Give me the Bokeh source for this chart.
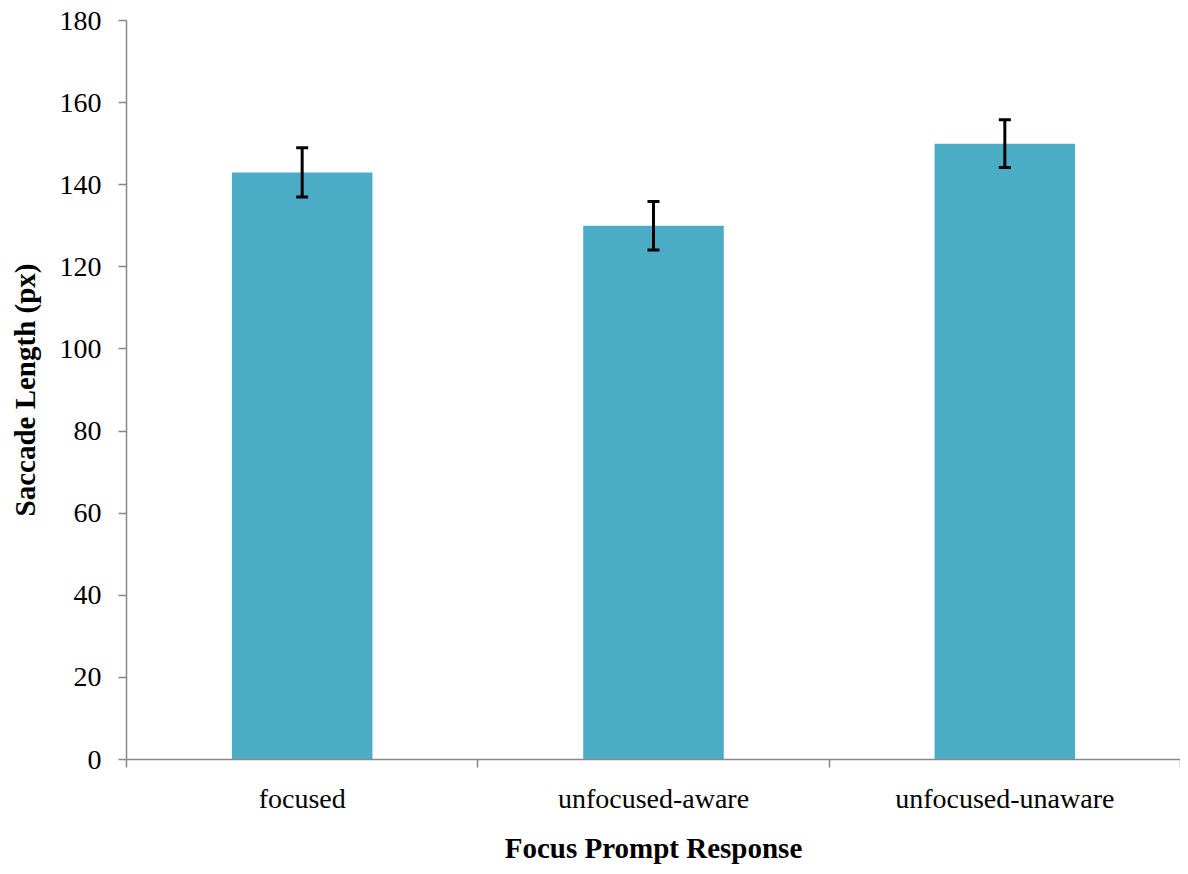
from bokeh.plotting import figure
from bokeh.models import ColumnDataSource, Range1d, FixedTicker, Whisker, TeeHead
from bokeh.embed import file_html
from bokeh.resources import INLINE

categories = ["focused", "unfocused-aware", "unfocused-unaware"]
values = [143, 130, 150]
errors = [6, 5.9, 5.8]
y_ticks = [0, 20, 40, 60, 80, 100, 120, 140, 160, 180]

xs = [i + 0.5 for i in range(len(categories))]
src = ColumnDataSource(dict(
    x=xs, top=values,
    upper=[v + e for v, e in zip(values, errors)],
    lower=[v - e for v, e in zip(values, errors)],
))

FONT = "Liberation Serif"
AXIS_COLOR = "#888888"

p = figure(width=1180, height=866, output_backend="svg", toolbar_location=None,
           x_range=Range1d(0, len(categories)), y_range=Range1d(0, 180),
           min_border_left=126, min_border_right=0, min_border_top=20, min_border_bottom=107)
p.outline_line_color = None
p.xgrid.visible = False
p.ygrid.visible = False

p.vbar(x="x", top="top", width=0.4, source=src, fill_color="#4BACC6", line_color=None)

w = Whisker(base="x", upper="upper", lower="lower", source=src,
            line_color="black", line_width=3, level="overlay",
            upper_head=TeeHead(size=12, line_color="black", line_width=3),
            lower_head=TeeHead(size=12, line_color="black", line_width=3))
p.add_layout(w)

# x axis: labels at centers, tick marks at category boundaries
p.xaxis.ticker = FixedTicker(ticks=xs, minor_ticks=list(range(len(categories) + 1)))
p.xaxis.major_label_overrides = {x: c for x, c in zip(xs, categories)}
p.xaxis.major_tick_out = 0
p.xaxis.major_tick_in = 0
p.xaxis.minor_tick_out = 8
p.xaxis.minor_tick_in = 0
p.xaxis.minor_tick_line_color = AXIS_COLOR
p.xaxis.minor_tick_line_width = 1.5
p.xaxis.major_label_standoff = 15
p.xaxis.axis_label = "Focus Prompt Response"
p.xaxis.axis_label_standoff = 15

p.yaxis.ticker = FixedTicker(ticks=y_ticks)
p.yaxis.major_tick_out = 8
p.yaxis.major_tick_in = 0
p.yaxis.minor_tick_line_color = None
p.yaxis.major_label_standoff = 17
p.yaxis.axis_label = "Saccade Length (px)"
p.yaxis.axis_label_standoff = 16

for ax in (p.xaxis[0], p.yaxis[0]):
    ax.axis_line_color = AXIS_COLOR
    ax.axis_line_width = 1.5
    ax.major_tick_line_color = AXIS_COLOR
    ax.major_tick_line_width = 1.5
    ax.major_label_text_font = FONT
    ax.major_label_text_font_size = "28px"
    ax.major_label_text_color = "black"
    ax.axis_label_text_font = FONT
    ax.axis_label_text_font_size = "29px"
    ax.axis_label_text_font_style = "bold"
    ax.axis_label_text_color = "black"

open("out.html", "w").write(file_html(p, INLINE))
